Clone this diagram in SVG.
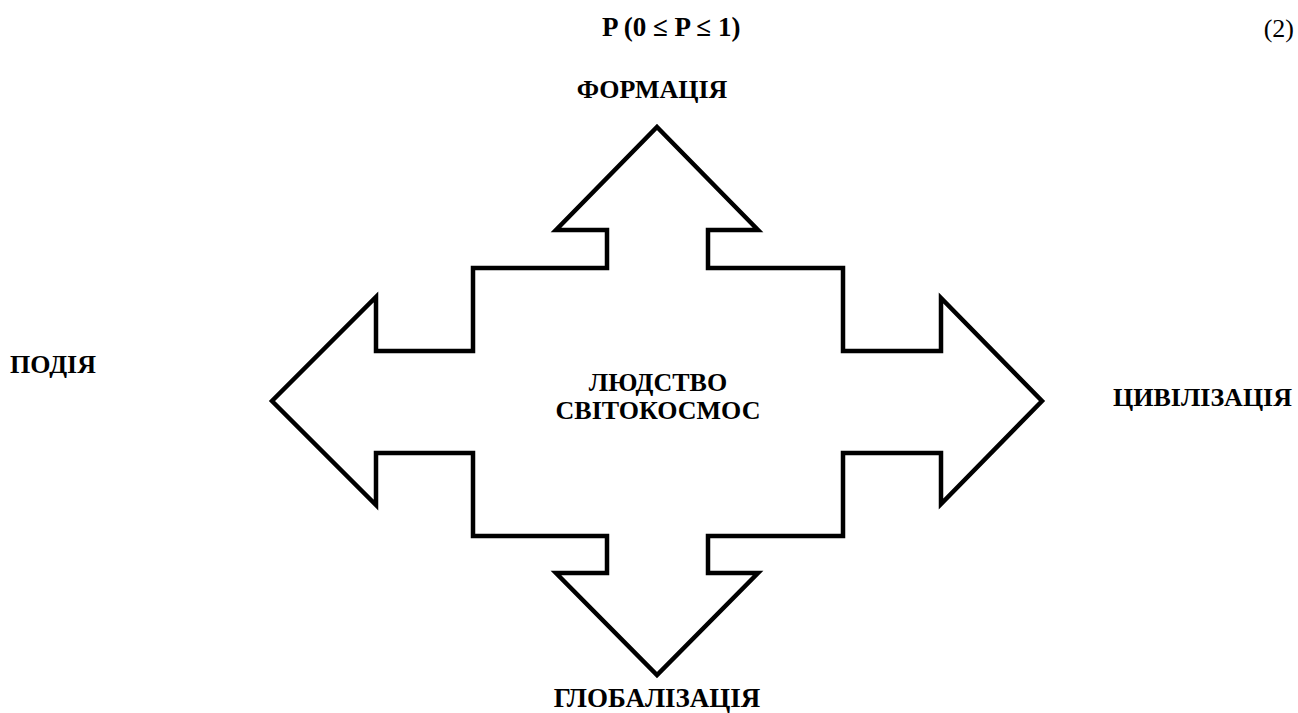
<svg xmlns="http://www.w3.org/2000/svg" width="1298" height="713" viewBox="0 0 1298 713">
<style>
text{font-family:"Liberation Serif","Times New Roman",serif;font-weight:bold;font-size:26px;fill:#000}
.n{font-weight:normal}
.shape{fill:#fff;stroke:#000;stroke-width:4.5;stroke-linejoin:miter;stroke-miterlimit:10}
</style>
<rect width="1298" height="713" fill="#fff"/>
<g id="formula">
<text x="602" y="36" style="font-size:27px">P (0 ≤ P ≤ 1)</text>
<text class="n" x="1294" y="37" text-anchor="end">(2)</text>
</g>
<g id="cross">
<path class="shape" d="M657,127 L758,230 L708,230 L708,268 L843,268 L843,351 L941,351 L941,298 L1042,401 L941,504 L941,453 L843,453 L843,536 L708,536 L708,573 L758,573 L657,675 L556,573 L607,573 L607,536 L473,536 L473,453 L376,453 L376,505 L272,401 L376,297 L376,351 L473,351 L473,268 L607,268 L607,230 L556,230 Z"/>
<text x="658" y="391" text-anchor="middle">ЛЮДСТВО</text>
<text x="658" y="419" text-anchor="middle">СВІТОКОСМОС</text>
</g>
<g id="top"><text x="652" y="98" text-anchor="middle">ФОРМАЦІЯ</text></g>
<g id="left"><text x="10" y="373">ПОДІЯ</text></g>
<g id="right"><text x="1113" y="406">ЦИВІЛІЗАЦІЯ</text></g>
<g id="bottom"><text x="657" y="707" text-anchor="middle" style="font-size:27px">ГЛОБАЛІЗАЦІЯ</text></g>
</svg>
